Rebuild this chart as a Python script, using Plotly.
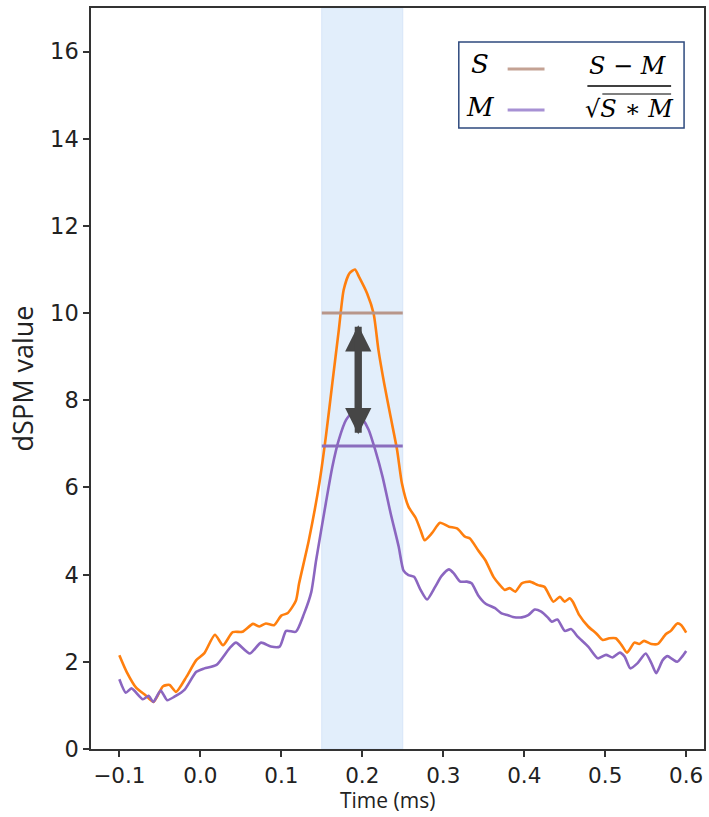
import plotly.graph_objects as go

# dSPM time courses (time in ms axis units)
t_S = [-0.100, -0.091, -0.079, -0.068, -0.058, -0.046, -0.038, -0.030, -0.017, -0.005,
       0.005, 0.018, 0.028, 0.040, 0.052, 0.065, 0.073, 0.081, 0.091, 0.100,
       0.108, 0.118, 0.122, 0.134, 0.147, 0.155, 0.163, 0.171, 0.177, 0.184,
       0.191, 0.196, 0.206, 0.214, 0.220, 0.227, 0.235, 0.243, 0.249, 0.257,
       0.266, 0.272, 0.277, 0.286, 0.296, 0.307, 0.317, 0.327, 0.333, 0.343,
       0.352, 0.362, 0.370, 0.376, 0.382, 0.389, 0.397, 0.407, 0.417, 0.425,
       0.436, 0.444, 0.450, 0.456, 0.460, 0.468, 0.479, 0.489, 0.497, 0.505,
       0.513, 0.520, 0.527, 0.536, 0.542, 0.548, 0.557, 0.565, 0.575, 0.581,
       0.589, 0.594, 0.600]
S = [2.15, 1.77, 1.40, 1.24, 1.08, 1.44, 1.47, 1.31, 1.66, 2.04,
     2.20, 2.62, 2.38, 2.68, 2.69, 2.87, 2.81, 2.88, 2.84, 3.06,
     3.12, 3.40, 3.80, 4.79, 6.10, 7.16, 8.39, 9.61, 10.53, 10.91,
     11.00, 10.83, 10.45, 9.99, 9.15, 8.39, 7.62, 6.86, 6.09, 5.56,
     5.30, 5.02, 4.79, 4.95, 5.19, 5.10, 5.06, 4.87, 4.83, 4.56,
     4.33, 3.95, 3.76, 3.65, 3.69, 3.61, 3.80, 3.84, 3.76, 3.72,
     3.38, 3.49, 3.38, 3.46, 3.38, 3.07, 2.81, 2.65, 2.50, 2.54,
     2.54, 2.39, 2.21, 2.44, 2.41, 2.48, 2.41, 2.41, 2.64, 2.71,
     2.88, 2.84, 2.67]

t_M = [-0.100, -0.092, -0.085, -0.071, -0.064, -0.058, -0.049, -0.041, -0.032, -0.019,
       -0.005, 0.005, 0.020, 0.036, 0.044, 0.061, 0.075, 0.087, 0.098, 0.106,
       0.118, 0.128, 0.137, 0.143, 0.155, 0.163, 0.171, 0.180, 0.190, 0.200,
       0.208, 0.216, 0.225, 0.235, 0.245, 0.251, 0.257, 0.264, 0.272, 0.280,
       0.290, 0.298, 0.307, 0.313, 0.321, 0.329, 0.335, 0.343, 0.352, 0.364,
       0.372, 0.380, 0.386, 0.397, 0.405, 0.413, 0.421, 0.429, 0.434, 0.441,
       0.450, 0.458, 0.466, 0.479, 0.491, 0.501, 0.509, 0.518, 0.524, 0.531,
       0.540, 0.550, 0.557, 0.563, 0.571, 0.577, 0.583, 0.589, 0.595, 0.600]
M = [1.60, 1.29, 1.39, 1.14, 1.22, 1.08, 1.34, 1.12, 1.20, 1.37,
     1.77, 1.85, 1.93, 2.31, 2.44, 2.19, 2.44, 2.35, 2.35, 2.71,
     2.69, 3.10, 3.60, 4.33, 5.64, 6.47, 7.09, 7.55, 7.76, 7.58,
     7.32, 6.86, 6.25, 5.41, 4.64, 4.09, 3.99, 3.95, 3.65, 3.43,
     3.72, 3.97, 4.12, 4.03, 3.84, 3.84, 3.80, 3.53, 3.34, 3.23,
     3.11, 3.07, 3.03, 3.02, 3.07, 3.20, 3.15, 3.02, 2.92, 2.97,
     2.71, 2.75, 2.58, 2.35, 2.08, 2.16, 2.10, 2.21, 2.12, 1.85,
     1.97, 2.19, 1.97, 1.74, 2.04, 2.13, 2.06, 2.00, 2.12, 2.25]

# analysis window and reference levels
window = [0.15, 0.25]
S_level = 10.0
M_level = 6.95
arrow_x = 0.195
arrow_span = [9.72, 7.22]

x_ticks = [-0.1, 0.0, 0.1, 0.2, 0.3, 0.4, 0.5, 0.6]
y_ticks = [0, 2, 4, 6, 8, 10, 12, 14, 16]

ORANGE = "#ff7f0e"
PURPLE = "#8b66c0"
BROWN_H = "#b8968a"
PURPLE_H = "#8a6dbd"
AXC = "#333333"

fig = go.Figure()

fig.add_vrect(x0=window[0], x1=window[1], fillcolor="#e2eefb", line_width=1,
              line_color="#d6e5f8", layer="below")

fig.add_trace(go.Scatter(x=t_S, y=S, mode="lines",
                         line=dict(color=ORANGE, width=2.6, shape="spline", smoothing=0.6),
                         showlegend=False, hoverinfo="skip"))
fig.add_trace(go.Scatter(x=t_M, y=M, mode="lines",
                         line=dict(color=PURPLE, width=2.6, shape="spline", smoothing=0.6),
                         showlegend=False, hoverinfo="skip"))

fig.add_trace(go.Scatter(x=window, y=[S_level, S_level], mode="lines",
                         line=dict(color=BROWN_H, width=3), showlegend=False, hoverinfo="skip"))
fig.add_trace(go.Scatter(x=window, y=[M_level, M_level], mode="lines",
                         line=dict(color=PURPLE_H, width=3), showlegend=False, hoverinfo="skip"))

# double-headed arrow between the two levels
for tip, tail in [(arrow_span[0], arrow_span[1]), (arrow_span[1], arrow_span[0])]:
    fig.add_annotation(x=arrow_x, y=tip, ax=arrow_x, ay=tail, xref="x", yref="y",
                       axref="x", ayref="y", showarrow=True, arrowhead=2,
                       arrowsize=0.75, arrowwidth=7, arrowcolor="#464646", text="")


# key box with the formula, placed in pixel-derived paper coordinates
def px(xp):
    return (xp - 91) / 615


def py(yp):
    return (749 - yp) / 741


serif = "DejaVu Serif"
fig.add_shape(type="rect", xref="paper", yref="paper",
              x0=px(460), x1=px(686), y0=py(128), y1=py(42),
              line=dict(color="#2e4a7e", width=1.5), fillcolor="white")


def key_text(x, y, text, size, family=serif):
    fig.add_annotation(x=px(x), y=py(y), xref="paper", yref="paper", showarrow=False,
                       xanchor="center", yanchor="middle", text=text,
                       font=dict(family=family, size=size, color="black"))


key_text(481, 64, "<i>S</i>", 26)
key_text(482, 107, "<i>M</i>", 26)
fig.add_shape(type="line", xref="paper", yref="paper", x0=px(509), x1=px(546),
              y0=py(69), y1=py(69), line=dict(color="#c4a294", width=3))
fig.add_shape(type="line", xref="paper", yref="paper", x0=px(509), x1=px(546),
              y0=py(110), y1=py(110), line=dict(color="#a791d4", width=3))
key_text(630, 66, "<i>S</i> − <i>M</i>", 24)
fig.add_shape(type="line", xref="paper", yref="paper", x0=px(589), x1=px(673),
              y0=py(86), y1=py(86), line=dict(color="black", width=1.5))
key_text(631, 109, "√<i>S</i> ∗ <i>M</i>", 24)
fig.add_shape(type="line", xref="paper", yref="paper", x0=px(604), x1=px(673),
              y0=py(94), y1=py(94), line=dict(color="black", width=1.2))

# x-axis title
fig.add_annotation(x=px(388), y=py(800), xref="paper", yref="paper", showarrow=False,
                   xanchor="center", yanchor="middle", text="Time (ms)",
                   font=dict(family="Open Sans", size=21, color="#222"))

fig.update_xaxes(range=[-0.135, 0.622], tickvals=x_ticks,
                 ticktext=[f"{v:.1f}".replace("-", "−") for v in x_ticks],
                 ticks="outside", ticklen=6, tickwidth=1.5, tickcolor=AXC,
                 showline=True, linecolor=AXC, linewidth=1.5, mirror=True,
                 showgrid=False, zeroline=False,
                 tickfont=dict(family="DejaVu Sans", size=21.5, color="#222"))
fig.update_yaxes(range=[0, 17], tickvals=y_ticks,
                 ticks="outside", ticklen=6, tickwidth=1.5, tickcolor=AXC,
                 showline=True, linecolor=AXC, linewidth=1.5, mirror=True,
                 showgrid=False, zeroline=False,
                 tickfont=dict(family="DejaVu Sans", size=22.5, color="#222"),
                 title=dict(text="dSPM value", standoff=9,
                            font=dict(family="Open Sans", size=27, color="#222")))

fig.update_layout(width=709, height=817, margin=dict(l=91, r=3, t=8, b=68),
                  plot_bgcolor="white", paper_bgcolor="white")

fig.write_html("out.html")
